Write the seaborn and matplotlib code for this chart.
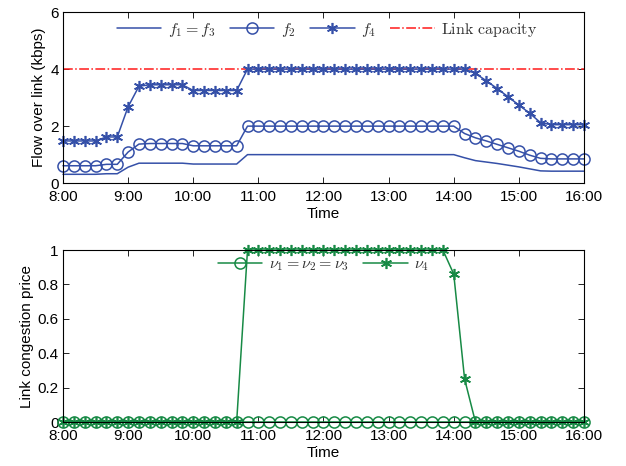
import numpy as np
import pandas as pd
import matplotlib
matplotlib.use("Agg")
import matplotlib.pyplot as plt
import seaborn as sns

# ---- data (10-minute samples from 8:00 to 16:00) ----
tick_hours = [8, 9, 10, 11, 12, 13, 14, 15, 16]
tick_labels = ["8:00", "9:00", "10:00", "11:00", "12:00", "13:00", "14:00", "15:00", "16:00"]
time_h = 8 + np.arange(49) / 6.0

f1 = [0.31, 0.31, 0.31, 0.31, 0.33, 0.33, 0.56, 0.70, 0.70, 0.70, 0.70, 0.70,
      0.67, 0.67, 0.67, 0.67, 0.67] + [1.0] * 20 + \
     [0.89, 0.79, 0.74, 0.69, 0.63, 0.57, 0.50, 0.43, 0.42, 0.42, 0.42, 0.42]
f2 = [0.61, 0.61, 0.61, 0.61, 0.66, 0.66, 1.09, 1.37, 1.39, 1.39, 1.39, 1.39,
      1.31, 1.31, 1.31, 1.31, 1.31] + [2.0] * 20 + \
     [1.74, 1.59, 1.48, 1.36, 1.24, 1.12, 0.98, 0.87, 0.85, 0.85, 0.85, 0.85]
f4 = [1.48, 1.48, 1.48, 1.48, 1.62, 1.62, 2.68, 3.40, 3.45, 3.45, 3.45, 3.45,
      3.25, 3.25, 3.25, 3.25, 3.25] + [4.0] * 21 + \
     [3.85, 3.59, 3.32, 3.03, 2.74, 2.45, 2.12, 2.05, 2.05, 2.05, 2.05]
capacity = [4.0] * 49

nu123 = [0.0] * 49
nu4 = [0.0] * 17 + [1.0] * 19 + [0.86, 0.25] + [0.0] * 11

df = pd.DataFrame({"time": time_h, "f1": f1, "f2": f2, "f4": f4,
                   "cap": capacity, "nu123": nu123, "nu4": nu4})

# ---- style ----
sns.set_style("ticks")
plt.rcParams["font.family"] = ["Liberation Sans", "DejaVu Sans"]
plt.rcParams["mathtext.fontset"] = "cm"
plt.rcParams["axes.linewidth"] = 0.8
plt.rcParams["text.color"] = "black"
plt.rcParams["axes.labelcolor"] = "black"
plt.rcParams["xtick.color"] = "black"
plt.rcParams["ytick.color"] = "black"

blue = "#3550A8"
green = "#178A45"
red = "#FF1A1A"
legend_txt = "#333333"

fig = plt.figure(figsize=(6.26, 4.66), dpi=100)
ax1 = fig.add_axes([0.1006, 0.607, 0.8323, 0.367])
ax2 = fig.add_axes([0.1006, 0.0944, 0.8323, 0.3691])

lw = 1.1
# top panel
sns.lineplot(data=df, x="time", y="f1", ax=ax1, color=blue, lw=lw,
             label="$f_1 = f_3$", clip_on=False)
sns.lineplot(data=df, x="time", y="f2", ax=ax1, color=blue, lw=lw,
             marker="o", markersize=8, markerfacecolor="none",
             markeredgecolor=blue, markeredgewidth=1.1,
             label="$f_2$", clip_on=False)
sns.lineplot(data=df, x="time", y="f4", ax=ax1, color=blue, lw=lw,
             marker=(6, 2, 0), markersize=8, markeredgecolor=blue,
             markeredgewidth=1.2, label="$f_4$", clip_on=False)
sns.lineplot(data=df, x="time", y="cap", ax=ax1, color=red, lw=lw,
             linestyle="-.", label=r"$\mathrm{Link\ capacity}$", zorder=1.5)

ax1.set_xlim(8, 16)
ax1.set_ylim(0, 6)
ax1.set_yticks([0, 2, 4, 6])
ax1.set_xticks(tick_hours)
ax1.set_xticklabels(tick_labels)
ax1.set_xlabel("Time", fontsize=11, labelpad=2)
ax1.set_ylabel("Flow over link (kbps)", fontsize=11, labelpad=3)
leg1 = ax1.legend(loc="center", bbox_to_anchor=(0.507, 0.895), ncol=4,
                  frameon=False, fontsize=11.5, handlelength=2.8,
                  handletextpad=0.4, columnspacing=0.9, borderpad=0.2)
for t in leg1.get_texts():
    t.set_color(legend_txt)

# bottom panel
sns.lineplot(data=df, x="time", y="nu123", ax=ax2, color=green, lw=lw,
             marker="o", markersize=8, markerfacecolor="none",
             markeredgecolor=green, markeredgewidth=1.1,
             label=r"$\nu_1 = \nu_2 = \nu_3$", clip_on=False)
sns.lineplot(data=df, x="time", y="nu4", ax=ax2, color=green, lw=lw,
             marker=(6, 2, 0), markersize=8, markeredgecolor=green,
             markeredgewidth=1.2, label=r"$\nu_4$", clip_on=False)

ax2.set_xlim(8, 16)
ax2.set_ylim(0, 1)
ax2.set_yticks([0, 0.2, 0.4, 0.6, 0.8, 1])
ax2.set_yticklabels(["0", "0.2", "0.4", "0.6", "0.8", "1"])
ax2.set_xticks(tick_hours)
ax2.set_xticklabels(tick_labels)
ax2.set_xlabel("Time", fontsize=11, labelpad=2)
ax2.set_ylabel("Link congestion price", fontsize=11, labelpad=3)
leg2 = ax2.legend(loc="center", bbox_to_anchor=(0.5, 0.913), ncol=2,
                  frameon=False, fontsize=11.5, handlelength=2.8,
                  handletextpad=0.4, columnspacing=0.9, borderpad=0.2)
for t in leg2.get_texts():
    t.set_color(legend_txt)

for ax in (ax1, ax2):
    ax.tick_params(direction="in", top=True, right=True, length=4,
                   width=0.6, labelsize=11, pad=3)
    ax.tick_params(axis="x", pad=5)
    for s in ax.spines.values():
        s.set_visible(True)
        s.set_color("black")

fig.savefig("out.png", dpi=100)
